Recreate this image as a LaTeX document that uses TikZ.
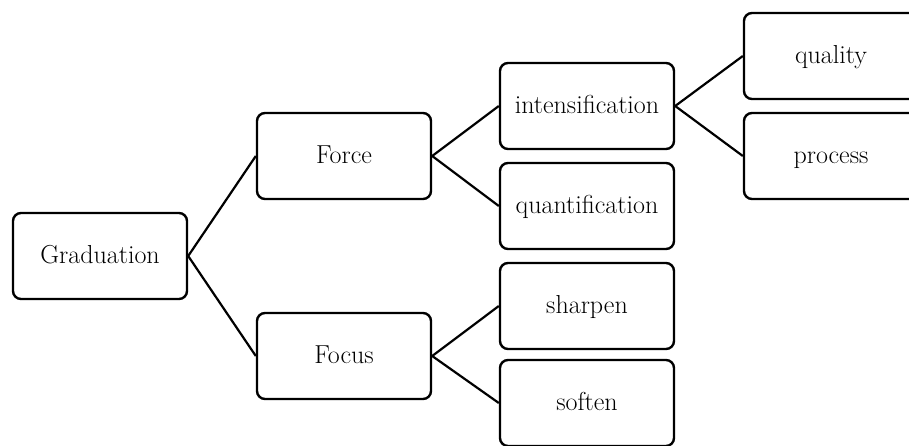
\documentclass[tikz,border=0pt]{standalone}
\usepackage{fontspec}
\begin{document}
\begin{tikzpicture}[x=1pt,y=-1pt,
  box/.style={draw=black,line width=2.4pt,rounded corners=8pt,
    minimum width=174pt,minimum height=86pt,inner sep=2pt,
    text height=1.4em,text depth=0em,
    font=\fontsize{26}{30}\selectfont},
  link/.style={draw=black,line width=2.2pt}]
  \useasboundingbox (0,0) rectangle (909,445);

  \node[box] (grad) at (100,256) {Graduation};
  \node[box] (force) at (344,156) {Force};
  \node[box] (focus) at (344,356) {Focus};
  \node[box] (intens) at (587,106) {intensification};
  \node[box] (quant) at (587,206) {quantification};
  \node[box] (sharp) at (587,306) {sharpen};
  \node[box] (soft) at (587,403) {soften};
  \node[box] (qual) at (831,56) {quality};
  \node[box] (proc) at (831,156) {process};

  \draw[link] (grad.east) -- (force.west);
  \draw[link] (grad.east) -- (focus.west);
  \draw[link] (force.east) -- (intens.west);
  \draw[link] (force.east) -- (quant.west);
  \draw[link] (focus.east) -- (sharp.west);
  \draw[link] (focus.east) -- (soft.west);
  \draw[link] (intens.east) -- (qual.west);
  \draw[link] (intens.east) -- (proc.west);
\end{tikzpicture}
\end{document}
